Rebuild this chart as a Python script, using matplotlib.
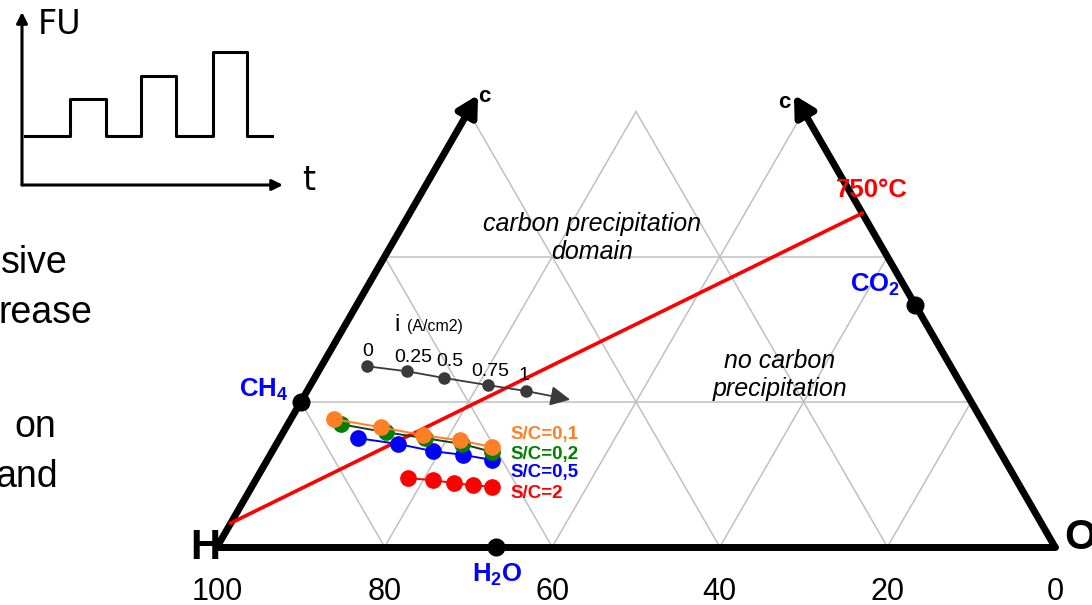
import numpy as np
import matplotlib.pyplot as plt

plt.rcParams['font.family'] = ['Liberation Sans', 'DejaVu Sans']
plt.rcParams['mathtext.fontset'] = 'custom'
plt.rcParams['mathtext.rm'] = 'Liberation Sans'
plt.rcParams['mathtext.bf'] = 'Liberation Sans:bold'

# compositions in % (C, O); H is the rest
ch4 = (20.0, 0.0)
h2o = (0.0, 33.3)
co2 = (33.3, 66.7)
line750_c = [3.3, 46.0]
line750_o = [0.0, 54.0]

cur_c = [24.9, 24.2, 23.3, 22.3, 21.5]
cur_o = [5.5, 10.6, 15.4, 21.2, 26.1]
cur_end = (20.3, 32.0)
cur_labels = ['0', '0.25', '0.5', '0.75', '1']

sc01_c = [17.6, 16.5, 15.4, 14.7, 13.8]
sc01_o = [5.2, 11.3, 16.9, 21.6, 25.9]
sc02_c = [16.9, 15.8, 15.0, 14.2, 13.1]
sc02_o = [6.4, 12.3, 17.3, 22.1, 26.3]
sc05_c = [15.0, 14.2, 13.2, 12.7, 12.0]
sc05_o = [9.3, 14.5, 19.2, 23.0, 26.8]
sc2_c = [9.5, 9.2, 8.8, 8.5, 8.3]
sc2_o = [18.0, 21.2, 23.9, 26.3, 28.7]
sc_labels = ['S/C=0,1', 'S/C=0,2', 'S/C=0,5', 'S/C=2']
sc_colors = ['#ff7f27', '#008000', '#0000ff', '#ff0000']

grid_vals = [20, 40, 60, 80]
tick_vals = [0, 20, 40, 60, 80, 100]
c_top = 60   # diagram cut at 60 % C
c_arrow = 62.3

# inset: FU steps vs time
fu_t = [0.3, 4.8, 8.4, 11.9, 15.4, 19.1, 22.5, 25.0]
fu_lev = [1.0, 1.76, 1.0, 2.22, 1.0, 2.71, 1.0, 1.0]

W, H = 1092, 605


def tern(c, o):
    c = np.asarray(c, float)
    o = np.asarray(o, float)
    return o + c / 2, c * np.sqrt(3) / 2


def fpos(x, y):
    return x / W, 1 - y / H


fig = plt.figure(figsize=(W / 100, H / 100), dpi=100)
ax = fig.add_axes([0, 0, 1, 1])
ax.set_xlim(-217 / 8.38, (W - 217) / 8.38)
ax.set_ylim((547 - H) / 8.38, 547 / 8.38)
ax.axis('off')

gcol = '#c0c0c0'
for v in grid_vals:
    cm = min(c_top, 100 - v)
    # constant O
    x, y = tern([0, cm], [v, v])
    ax.plot(x, y, color=gcol, lw=1.1, zorder=1)
    # constant H
    x, y = tern([0, cm], [100 - v, 100 - v - cm])
    ax.plot(x, y, color=gcol, lw=1.1, zorder=1)
    # constant C
    if v < c_top:
        x, y = tern([v, v], [0, 100 - v])
        ax.plot(x, y, color=gcol, lw=1.1, zorder=1)

# triangle edges
ax.plot([0, 100], [0, 0], color='k', lw=5, zorder=3, solid_capstyle='round')
for c_, o_ in [((0, c_arrow), (0, 0)), ((0, c_arrow), (100, 100 - c_arrow))]:
    x, y = tern(c_, o_)
    ax.annotate('', xy=(x[1], y[1]), xytext=(x[0], y[0]),
                arrowprops=dict(arrowstyle='-|>,head_length=0.55,head_width=0.3',
                                lw=5, color='k', mutation_scale=22,
                                shrinkA=0, shrinkB=0), zorder=3)

x, y = tern(line750_c, line750_o)
ax.plot(x, y, color='#ff0000', lw=2.6, zorder=4)

for c_, o_ in [ch4, h2o, co2]:
    x, y = tern(c_, o_)
    ax.plot(x, y, 'o', color='k', ms=12, zorder=6)

# current density series
x, y = tern(cur_c, cur_o)
xe, ye = tern(*cur_end)
ax.annotate('', xy=(xe, ye), xytext=(x[-1], y[-1]),
            arrowprops=dict(arrowstyle='-|>,head_length=0.5,head_width=0.25',
                            lw=1.3, color='#3a3a3a',
                            mutation_scale=24, shrinkA=0, shrinkB=0), zorder=5)
ax.plot(x, y, '-o', color='#3a3a3a', ms=8, lw=1.3, zorder=5)

series = [(sc05_c, sc05_o, sc_colors[2], sc_colors[2]),
          (sc02_c, sc02_o, sc_colors[1], '#1f3a1f'),
          (sc01_c, sc01_o, sc_colors[0], sc_colors[0]),
          (sc2_c, sc2_o, sc_colors[3], sc_colors[3])]
for c_, o_, mc, lc in series:
    x, y = tern(c_, o_)
    ax.plot(x, y, '-', color=lc, lw=1.4, zorder=5)
    ax.plot(x, y, 'o', color=mc, ms=11, zorder=5)

# bottom tick labels (H %)
for v in tick_vals:
    ax.text(100 - v, (547 - 592) / 8.38, str(v), ha='center', va='center', fontsize=22)

# labels
fig.text(*fpos(484, 97), 'c', fontsize=16, weight='bold', ha='center', va='center')
fig.text(*fpos(784, 103), 'c', fontsize=16, weight='bold', ha='center', va='center')
fig.text(*fpos(872, 190), '750°C', fontsize=18.5, weight='bold', color='#ff0000',
         ha='center', va='center')
fig.text(*fpos(875, 285), r'$\mathbf{CO_2}$', fontsize=18.5, color='#0000ff',
         ha='center', va='center')
fig.text(*fpos(288, 390), r'$\mathbf{CH_4}$', fontsize=18.5, color='#0000ff',
         ha='right', va='center')
fig.text(*fpos(497, 575), r'$\mathbf{H_2O}$', fontsize=18.5, color='#0000ff',
         ha='center', va='center')
fig.text(*fpos(205, 548), 'H', fontsize=30, weight='bold', ha='center', va='center')
fig.text(*fpos(1064, 538), 'O', fontsize=30, weight='bold', ha='left', va='center')

fig.text(*fpos(592, 238), 'carbon precipitation\ndomain', fontsize=18, style='italic',
         ha='center', va='center', linespacing=1.25)
fig.text(*fpos(780, 375), 'no carbon\nprecipitation', fontsize=18, style='italic',
         ha='center', va='center', linespacing=1.25)

for lab, col, yy in zip(sc_labels, sc_colors, [435, 454, 473, 493]):
    fig.text(*fpos(510, yy), lab, fontsize=13.5, weight='bold', color=col,
             ha='left', va='center')

for lab, xx, yy in zip(cur_labels, [368, 413, 450, 490, 524], [352, 357, 362, 372, 376]):
    fig.text(*fpos(xx, yy), lab, fontsize=14, ha='center', va='center')
fig.text(*fpos(397, 325), 'i', fontsize=17, ha='center', va='center')
fig.text(*fpos(407, 327), '(A/cm2)', fontsize=11.5, ha='left', va='center')

# slide text cut at the left edge
for word, xr, yb in [('sive', 68, 273), ('rease', 92, 323), ('on', 56, 437), ('and', 58, 487)]:
    fig.text(*fpos(xr, yb), word, fontsize=27, ha='right', va='baseline')

# inset sketch
ax2 = fig.add_axes([22 / W, 1 - 185 / H, 268 / W, 173 / H])
ax2.set_xlim(0, 26.8)
ax2.set_ylim(0, 173 / 49)
ax2.axis('off')
ax2.step(fu_t, fu_lev, where='post', color='k', lw=2.2)
ax2.annotate('', xy=(26.1, 0), xytext=(0, 0),
             arrowprops=dict(arrowstyle='-|>', lw=2.2, color='k', mutation_scale=16,
                             shrinkA=0, shrinkB=0))
ax2.annotate('', xy=(0, 173 / 49), xytext=(0, 0),
             arrowprops=dict(arrowstyle='-|>', lw=2.2, color='k', mutation_scale=16,
                             shrinkA=0, shrinkB=0))
fig.text(*fpos(38, 24), 'FU', fontsize=24, family='DejaVu Sans', ha='left', va='center')
fig.text(*fpos(309, 180), 't', fontsize=24, family='DejaVu Sans', ha='center', va='center')

fig.savefig('out.png', dpi=100)
